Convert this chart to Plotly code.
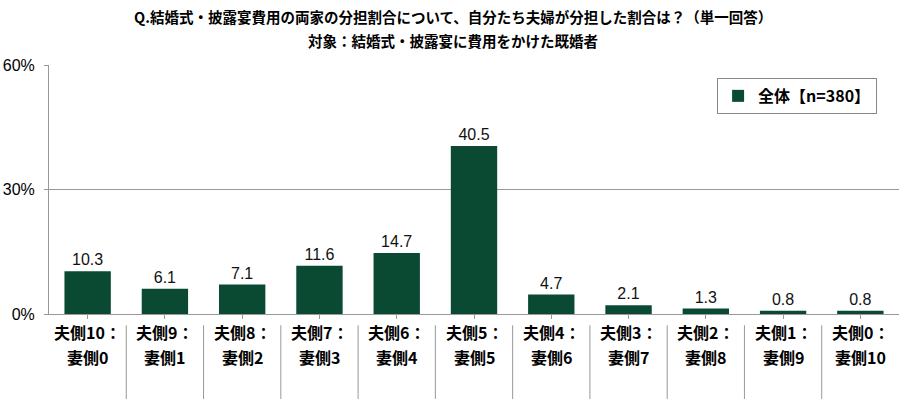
import plotly.graph_objects as go

cat_line1 = ["夫側10：", "夫側9：", "夫側8：", "夫側7：", "夫側6：", "夫側5：",
             "夫側4：", "夫側3：", "夫側2：", "夫側1：", "夫側0："]
cat_line2 = ["妻側0", "妻側1", "妻側2", "妻側3", "妻側4", "妻側5",
             "妻側6", "妻側7", "妻側8", "妻側9", "妻側10"]
values = [10.3, 6.1, 7.1, 11.6, 14.7, 40.5, 4.7, 2.1, 1.3, 0.8, 0.8]
series_name = "全体【n=380】"
title_lines = ["Q.結婚式・披露宴費用の両家の分担割合について、自分たち夫婦が分担した割合は？（単一回答）",
               "対象：結婚式・披露宴に費用をかけた既婚者"]
y_ticks = [0, 30, 60]

FONT = "Noto Sans CJK JP"
NUMFONT = "Liberation Sans, Arial"
GREEN = "#0a4a33"

n = len(values)
xs = list(range(n))

fig = go.Figure()
fig.add_trace(go.Bar(
    x=xs, y=values, name="<b>" + series_name + "</b>",
    marker=dict(color=GREEN, line=dict(width=0)),
    text=[f"{v:.1f}" for v in values], textposition="outside",
    textfont=dict(size=16, color="#111", family=NUMFONT),
    cliponaxis=False, showlegend=True,
))

shapes = []
for i in range(n - 1):
    shapes.append(dict(type="line", xref="x", yref="paper", x0=i + 0.5, x1=i + 0.5,
                       y0=-0.045, y1=-0.345, line=dict(color="#999", width=1)))

annotations = [
    dict(text="<b>" + title_lines[0] + "</b>", xref="paper", yref="paper", x=0.475, y=1.193,
         xanchor="center", yanchor="middle", showarrow=False,
         font=dict(size=14.5, family=FONT, color="#000")),
    dict(text="<b>" + title_lines[1] + "</b>", xref="paper", yref="paper", x=0.475, y=1.097,
         xanchor="center", yanchor="middle", showarrow=False,
         font=dict(size=14.5, family=FONT, color="#000")),
]
for i in xs:
    annotations.append(dict(text="<b>" + cat_line1[i] + "</b>", xref="x", yref="paper",
                            x=i, y=-0.073, xanchor="center", yanchor="middle", showarrow=False,
                            font=dict(size=16, family=FONT, color="#000")))
    annotations.append(dict(text="<b>" + cat_line2[i] + "</b>", xref="x", yref="paper",
                            x=i, y=-0.173, xanchor="center", yanchor="middle", showarrow=False,
                            font=dict(size=16, family=FONT, color="#000")))

fig.update_layout(
    width=920, height=399,
    margin=dict(l=49, r=21, t=65, b=85),
    paper_bgcolor="white", plot_bgcolor="white",
    font=dict(family=FONT, color="#000"),
    bargap=0.4,
    showlegend=True,
    legend=dict(x=0.786, y=0.948, xanchor="left", yanchor="top",
                bordercolor="#888", borderwidth=1, bgcolor="white",
                font=dict(size=16, family=FONT, color="#000"),
                itemwidth=30),
    shapes=shapes,
    annotations=annotations,
    xaxis=dict(
        tickmode="array", tickvals=xs, ticktext=["" for _ in xs],
        range=[-0.5, n - 0.5],
        showline=True, linecolor="#999", linewidth=1,
        ticks="outside", tickson="boundaries", ticklen=4, tickcolor="#999",
        showgrid=False, automargin=False,
    ),
    yaxis=dict(
        range=[0, 60], tickvals=y_ticks, ticktext=[f"{t}%" for t in y_ticks],
        showline=True, linecolor="#999", linewidth=1,
        showgrid=True, gridcolor="#999", gridwidth=1,
        ticks="outside", ticklen=4, tickcolor="#999",
        tickfont=dict(size=16, family=NUMFONT, color="#000"),
        ticklabelstandoff=6,
        zeroline=False, automargin=False,
    ),
)

fig.write_html("out.html", config={"displayModeBar": False},
               post_script="document.body.style.margin='0';")
